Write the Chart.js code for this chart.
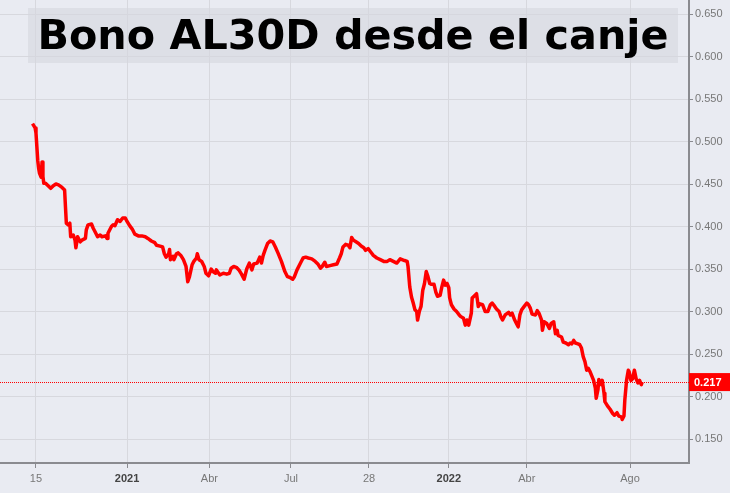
<!DOCTYPE html>
<html lang="es">
<head>
<meta charset="utf-8">
<title>Bono AL30D desde el canje</title>
<script src="https://cdn.jsdelivr.net/npm/chart.js@4.4.1/dist/chart.umd.min.js"></script>
<style>
  html, body { margin: 0; padding: 0; background: #e9ebf2; }
  #wrap { position: relative; width: 730px; height: 493px; background: #e9ebf2; }
  #grafico { display: block; }
  #titulo {
    position: absolute; left: 28px; top: 8px; width: 650px; height: 55px;
    line-height: 55px; text-align: center; background: rgba(214, 215, 222, 0.6);
    font-family: "DejaVu Sans", sans-serif; font-weight: bold; font-size: 41.3px; color: #000;
  }
</style>
</head>
<body>
<div id="wrap">
  <canvas id="grafico" width="730" height="493"></canvas>
  <div id="titulo">Bono AL30D desde el canje</div>
</div>
<script>
// dias desde el 15 de septiembre 2020 (eje de sesiones)
const dias = [
  -4, -1, 0, 2, 3, 4, 6, 7, 8, 9, 11, 14, 17, 20, 23, 26, 30, 33, 34, 35, 37, 39, 40, 43, 45, 46, 48, 51, 53, 57, 58, 60,
  64, 66, 69, 71, 74, 76, 80, 82, 83, 87, 89, 91, 94, 97, 100, 103, 105, 108, 111, 114, 118, 122, 126, 129, 133, 137,
  139, 143, 146, 148, 150, 153, 154, 155, 158, 159, 162, 164, 167, 170, 173, 175, 177, 180, 182, 185, 186, 188, 191,
  194, 196, 199, 202, 204, 207, 208, 210, 212, 216, 220, 223, 225, 228, 231, 234, 237, 240, 243, 246, 249, 251, 255,
  258, 260, 262, 264, 267, 270, 273, 276, 279, 283, 287, 290, 293, 296, 298, 301, 305, 308, 311, 314, 318, 322, 325,
  328, 330, 333, 335, 339, 343, 347, 350, 352, 354, 357, 360, 362, 364, 366, 369, 372, 375, 378, 380, 383, 386, 389,
  393, 397, 401, 405, 408, 412, 416, 420, 425, 428, 429, 431, 433, 435, 437, 439, 440, 442, 444, 446, 448, 450, 452,
  454, 456, 459, 461, 463, 466, 468, 470, 472, 474, 476, 477, 479, 482, 485, 488, 490, 493, 495, 497, 499, 502, 503,
  506, 508, 510, 512, 515, 518, 521, 524, 526, 529, 531, 534, 536, 538, 541, 545, 547, 549, 552, 554, 556, 558, 560,
  563, 566, 568, 570, 572, 576, 578, 580, 583, 584, 586, 589, 592, 594, 597, 599, 601, 602, 606, 608, 611, 614, 616,
  618, 620, 622, 625, 627, 629, 631, 633, 635, 637, 639, 641, 643, 645, 646, 648, 649, 652, 653, 655, 656, 659, 662,
  665, 667, 670, 672, 675, 676, 678, 679, 681, 683, 684, 686, 688, 690, 692, 694, 696, 698, 699
];
const precios = [
  0.521, 0.516, 0.510, 0.478, 0.469, 0.463, 0.458, 0.476, 0.459, 0.451, 0.451, 0.448, 0.445, 0.448, 0.450, 0.449,
  0.446, 0.443, 0.423, 0.404, 0.402, 0.404, 0.388, 0.390, 0.384, 0.375, 0.388, 0.382, 0.384, 0.386, 0.396, 0.402,
  0.403, 0.398, 0.392, 0.388, 0.390, 0.388, 0.389, 0.386, 0.392, 0.400, 0.402, 0.401, 0.408, 0.406, 0.410, 0.410,
  0.406, 0.401, 0.397, 0.391, 0.389, 0.389, 0.388, 0.386, 0.383, 0.381,
  0.378, 0.377, 0.376, 0.368, 0.364, 0.368, 0.373, 0.361, 0.365, 0.361, 0.368, 0.369, 0.366, 0.361, 0.353, 0.335,
  0.341, 0.355, 0.359, 0.363, 0.368, 0.361, 0.359, 0.353, 0.345, 0.342, 0.350, 0.347, 0.345, 0.349, 0.346, 0.343,
  0.345, 0.344, 0.345, 0.351, 0.353, 0.352, 0.349, 0.344, 0.338, 0.350, 0.357, 0.349, 0.356, 0.357, 0.364, 0.357,
  0.366, 0.372, 0.380, 0.383, 0.382, 0.376, 0.369, 0.359, 0.347, 0.341, 0.340, 0.338, 0.341, 0.349, 0.357, 0.363,
  0.364, 0.363, 0.362, 0.359, 0.356, 0.351, 0.353, 0.358, 0.353, 0.354, 0.355, 0.356, 0.363, 0.368, 0.376, 0.379,
  0.378, 0.375, 0.387, 0.384, 0.382, 0.380, 0.377, 0.375, 0.372, 0.374, 0.370, 0.366, 0.363, 0.361, 0.359, 0.359,
  0.361, 0.359, 0.357, 0.362, 0.360, 0.359, 0.353, 0.329, 0.317, 0.310, 0.302, 0.300, 0.290, 0.300, 0.306, 0.325,
  0.333, 0.347, 0.341, 0.333, 0.332, 0.332, 0.323, 0.318, 0.319, 0.329, 0.337, 0.331, 0.333, 0.328, 0.316, 0.308,
  0.303, 0.300, 0.296, 0.294, 0.292, 0.284, 0.290, 0.284, 0.298, 0.316, 0.319, 0.321, 0.306, 0.309, 0.308, 0.300,
  0.300, 0.308, 0.310, 0.306, 0.303, 0.300, 0.294, 0.290, 0.296, 0.299, 0.296, 0.298, 0.290, 0.286, 0.282, 0.296,
  0.302, 0.306, 0.310, 0.308, 0.304, 0.297, 0.296, 0.301, 0.298, 0.290, 0.278, 0.288, 0.286, 0.280, 0.286, 0.288,
  0.274, 0.278, 0.272, 0.270, 0.264, 0.263, 0.261, 0.263, 0.262, 0.266, 0.263, 0.262, 0.261, 0.257, 0.247, 0.241,
  0.231, 0.233, 0.229, 0.224, 0.219, 0.210, 0.198, 0.208, 0.220, 0.214, 0.219, 0.204, 0.194, 0.189, 0.185, 0.180,
  0.178, 0.181, 0.177, 0.176, 0.173, 0.177, 0.196, 0.219, 0.231, 0.229, 0.219, 0.221, 0.231, 0.221, 0.216, 0.219,
  0.214, 0.217
];

// etiquetas del eje de tiempo
const marcasDias = [0, 105, 200, 294, 384, 476, 566, 685];
const marcasTexto = ["15", "2021", "Abr", "Jul", "28", "2022", "Abr", "Ago"];
const marcasAnio = ["2021", "2022"];

// eje de precios
const marcasPrecio = [0.15, 0.2, 0.25, 0.3, 0.35, 0.4, 0.45, 0.5, 0.55, 0.6, 0.65];
const ultimoPrecio = 0.217;

const lineaPrecioActual = {
  id: "lineaPrecioActual",
  afterDatasetsDraw(chart) {
    const { ctx, chartArea, scales } = chart;
    const y = Math.round(scales.y.getPixelForValue(ultimoPrecio)) + 0.5;
    ctx.save();
    ctx.strokeStyle = "#ff0000";
    ctx.lineWidth = 1;
    ctx.setLineDash([1, 1]);
    ctx.beginPath();
    ctx.moveTo(chartArea.left, y);
    ctx.lineTo(chartArea.right, y);
    ctx.stroke();
    ctx.restore();
  },
  afterDraw(chart) {
    const { ctx, chartArea, scales } = chart;
    const y = scales.y.getPixelForValue(ultimoPrecio);
    ctx.save();
    ctx.fillStyle = "#ff0000";
    ctx.fillRect(chartArea.right, y - 9, chart.width - chartArea.right, 18);
    ctx.fillStyle = "#ffffff";
    ctx.font = "bold 11px 'Liberation Sans', Arial, sans-serif";
    ctx.textBaseline = "middle";
    ctx.fillText(ultimoPrecio.toFixed(3), chartArea.right + 5, y + 0.5);
    ctx.restore();
  },
};

document.addEventListener("DOMContentLoaded", () => {
  const canvas = document.getElementById("grafico");
  const puntos = dias.map((d, i) => ({ x: d, y: precios[i] }));

  new Chart(canvas, {
    type: "line",
    data: {
      datasets: [
        {
          label: "AL30D",
          data: puntos,
          borderColor: "#ff0000",
          borderWidth: 3.5,
          borderJoinStyle: "round",
          pointRadius: 0,
          tension: 0,
          fill: false,
        },
      ],
    },
    options: {
      responsive: false,
      animation: false,
      devicePixelRatio: 1,
      layout: { padding: 0 },
      plugins: {
        legend: { display: false },
        tooltip: { enabled: false },
      },
      scales: {
        x: {
          type: "linear",
          position: "bottom",
          min: -41.5,
          max: 753,
          afterBuildTicks: (scale) => {
            scale.ticks = marcasDias.map((v) => ({ value: v }));
          },
          afterFit: (scale) => {
            scale.height = 30;
            scale.paddingLeft = 0;
            scale.paddingRight = 0;
          },
          ticks: {
            autoSkip: false,
            maxRotation: 0,
            padding: 4,
            callback: (value) => {
              const i = marcasDias.indexOf(value);
              return i >= 0 ? marcasTexto[i] : "";
            },
            color: (ctx) => (marcasAnio.includes(marcasTexto[ctx.index]) ? "#444" : "#777"),
            font: (ctx) => ({
              family: "'Liberation Sans', Arial, sans-serif",
              size: 11,
              weight: marcasAnio.includes(marcasTexto[ctx.index]) ? "bold" : "normal",
            }),
          },
          grid: {
            color: "#d7d8de",
            lineWidth: 1,
            tickLength: 5,
            tickColor: "#8a8b90",
          },
          border: { color: "#8a8b90", width: 2 },
        },
        y: {
          position: "right",
          min: 0.1218,
          max: 0.6665,
          afterBuildTicks: (scale) => {
            scale.ticks = marcasPrecio.map((v) => ({ value: v }));
          },
          afterFit: (scale) => {
            scale.width = 41;
            scale.paddingTop = 0;
            scale.paddingBottom = 0;
          },
          ticks: {
            padding: 2,
            callback: (value) => value.toFixed(3),
            color: "#777",
            font: { family: "'Liberation Sans', Arial, sans-serif", size: 11 },
          },
          grid: {
            color: "#d7d8de",
            lineWidth: 1,
            tickLength: 4,
            tickColor: "#8a8b90",
          },
          border: { color: "#8a8b90", width: 2 },
        },
      },
    },
    plugins: [lineaPrecioActual],
  });
});
</script>
</body>
</html>
